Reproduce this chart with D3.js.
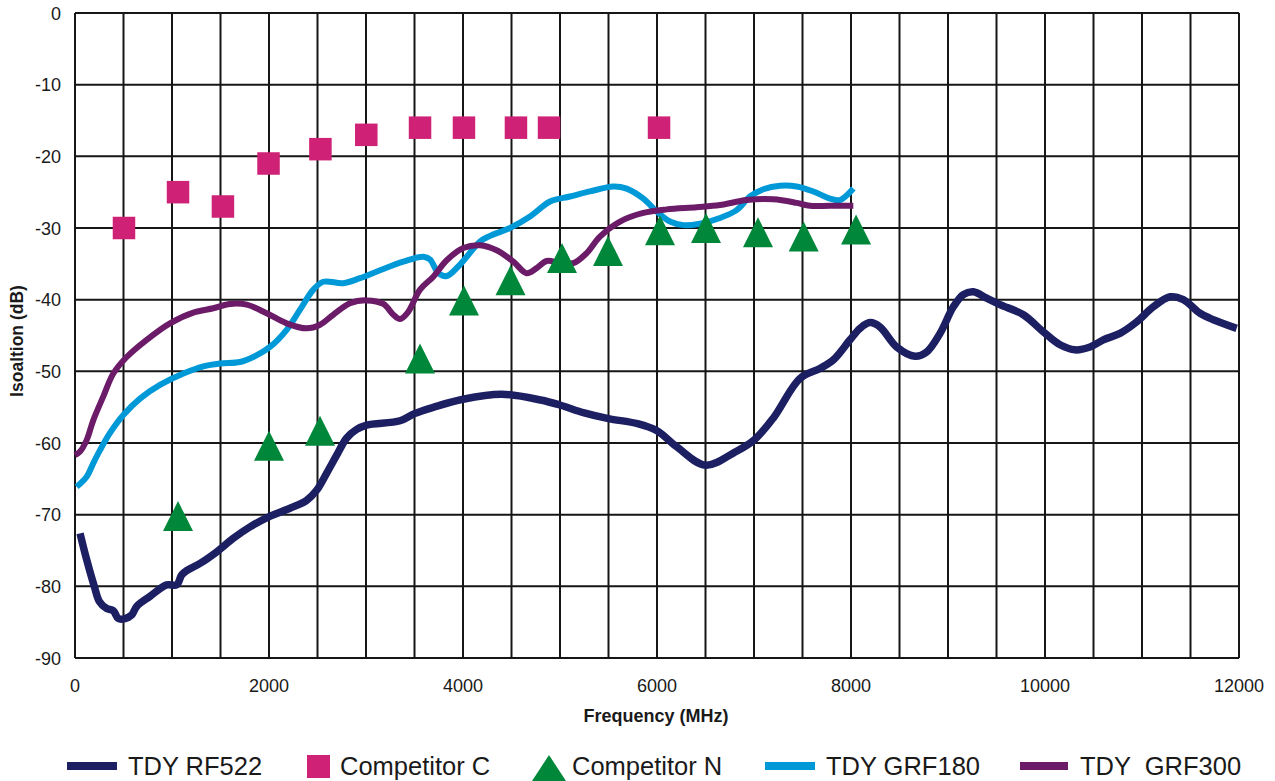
<!DOCTYPE html>
<html><head><meta charset="utf-8">
<script src="https://cdn.jsdelivr.net/npm/d3@7"></script>
<style>
html,body{margin:0;padding:0;background:#fff;}
svg{display:block;font-family:"Liberation Sans",Arial,sans-serif;}
</style></head>
<body>
<svg id="chart" width="1275" height="781"></svg>
<script>
// ---- data ----
const rf522 = [[52,-72.6],[113,-75.9],[199,-80.0],[251,-82.1],[327,-83.1],[395,-83.4],[447,-84.5],[515,-84.5],[584,-84.0],[636,-82.8],[773,-81.4],[945,-79.8],[1048,-79.8],[1100,-78.4],[1151,-77.8],[1289,-76.8],[1460,-75.2],[1632,-73.3],[1804,-71.7],[1997,-70.3],[2216,-69.1],[2388,-68.0],[2491,-66.6],[2595,-64.2],[2698,-61.7],[2801,-59.3],[2904,-58.1],[3007,-57.5],[3351,-56.9],[3500,-55.9],[3700,-55.0],[4000,-53.9],[4400,-53.2],[4800,-54.0],[5000,-54.7],[5250,-55.8],[5500,-56.6],[5800,-57.3],[6000,-58.3],[6200,-60.5],[6500,-63.1],[6800,-61.3],[7000,-59.6],[7200,-56.5],[7474,-51.0],[7680,-49.6],[7818,-48.4],[7990,-45.6],[8093,-44.0],[8196,-43.2],[8299,-43.8],[8471,-46.6],[8660,-47.9],[8780,-47.3],[8918,-44.7],[9055,-41.0],[9158,-39.3],[9261,-38.9],[9399,-39.8],[9536,-40.7],[9777,-42.1],[9983,-44.5],[10155,-46.3],[10309,-47.0],[10464,-46.6],[10601,-45.6],[10773,-44.7],[10945,-43.1],[11117,-41.0],[11289,-39.6],[11426,-40.0],[11598,-41.9],[11735,-42.8],[11976,-44.0]];
const grf180 = [[17,-66.1],[120,-64.7],[189,-62.8],[258,-61.0],[361,-58.6],[498,-56.1],[670,-53.8],[876,-51.9],[1117,-50.3],[1323,-49.3],[1495,-48.9],[1701,-48.7],[1838,-48.0],[2010,-46.6],[2182,-44.2],[2320,-41.4],[2457,-38.6],[2560,-37.5],[2766,-37.7],[2938,-37.0],[3144,-35.9],[3385,-34.7],[3591,-34.0],[3660,-34.4],[3746,-36.3],[3832,-36.7],[3969,-35.1],[4175,-31.9],[4278,-31.1],[4485,-30.0],[4691,-28.4],[4897,-26.3],[5103,-25.6],[5309,-24.9],[5550,-24.2],[5687,-24.5],[5859,-25.9],[5997,-27.7],[6134,-29.1],[6271,-29.6],[6443,-29.4],[6649,-28.6],[6821,-27.5],[6959,-25.6],[7096,-24.6],[7268,-24.1],[7440,-24.2],[7612,-24.9],[7784,-25.9],[7887,-26.1],[8024,-24.5]];
const grf300 = [[0,-61.7],[52,-61.2],[120,-59.6],[189,-56.8],[292,-53.5],[395,-50.3],[533,-48.0],[739,-45.6],[979,-43.3],[1220,-41.8],[1426,-41.2],[1598,-40.6],[1770,-40.7],[1976,-41.9],[2182,-43.3],[2388,-44.0],[2526,-43.5],[2663,-42.1],[2835,-40.5],[3007,-40.1],[3179,-40.6],[3282,-42.1],[3351,-42.7],[3430,-41.8],[3557,-38.6],[3694,-36.8],[3832,-34.5],[4003,-32.8],[4175,-32.4],[4347,-33.1],[4519,-34.7],[4656,-36.3],[4759,-35.6],[4863,-34.6],[5000,-34.9],[5137,-34.9],[5275,-33.5],[5412,-31.2],[5619,-29.1],[5859,-27.9],[6100,-27.4],[6409,-27.1],[6649,-26.8],[6924,-26.1],[7199,-26.0],[7440,-26.5],[7577,-26.9],[7784,-26.9],[8024,-26.9]];
const competitorC = [[505,-30],[1062,-25],[1525,-27],[1995,-21],[2530,-19],[3003,-17],[3557,-16],[4010,-16],[4546,-16],[4887,-16],[6021,-16]];
const competitorN = [[1062,-70.2],[2000,-60.4],[2526,-58.3],[3557,-48.2],[4010,-40.1],[4490,-37.3],[5021,-34.2],[5495,-33.2],[6031,-30.3],[6505,-30.0],[7041,-30.6],[7512,-31.2],[8052,-30.2]];
const xTicks = [0,2000,4000,6000,8000,10000,12000];
const yTicks = [0,-10,-20,-30,-40,-50,-60,-70,-80,-90];
const xGrid = d3.range(0,12001,500);
const legendItems = ["TDY RF522","Competitor C","Competitor N","TDY GRF180","TDY  GRF300"];

// ---- layout ----
const L=75, R=1239, T=13, B=658;
const x = d3.scaleLinear().domain([0,12000]).range([L,R]);
const y = d3.scaleLinear().domain([0,-90]).range([T,B]);
const svg = d3.select("#chart");
const C = {navy:"#1d1f63", pink:"#cf2176", green:"#00873a", blue:"#0099d8", purple:"#6b1b68"};

// grid
const g = svg.append("g");
g.selectAll("line.v").data(xGrid).enter().append("line")
  .attr("x1",d=>x(d)).attr("x2",d=>x(d)).attr("y1",T).attr("y2",B)
  .attr("stroke","#161616").attr("stroke-width",2);
g.selectAll("line.h").data(yTicks).enter().append("line")
  .attr("x1",L).attr("x2",R).attr("y1",d=>y(d)).attr("y2",d=>y(d))
  .attr("stroke","#161616").attr("stroke-width",2);

// axis labels
svg.append("g").selectAll("text").data(yTicks).enter().append("text")
  .attr("x",61).attr("y",d=>y(d)+6.5).attr("text-anchor","end")
  .attr("font-size",18).attr("fill","#1a1a1a").text(d=>d);
svg.append("g").selectAll("text").data(xTicks).enter().append("text")
  .attr("x",d=>x(d)).attr("y",692).attr("text-anchor","middle")
  .attr("font-size",18).attr("fill","#1a1a1a").text(d=>d);

svg.append("text").attr("x",656).attr("y",722).attr("text-anchor","middle")
  .attr("font-size",18).attr("font-weight","bold").attr("fill","#1a1a1a").text("Frequency (MHz)");
svg.append("text").attr("transform","translate(23,341) rotate(-90)").attr("text-anchor","middle")
  .attr("font-size",17.5).attr("font-weight","bold").attr("fill","#1a1a1a").text("Isoaltion (dB)");

// lines
const line = d3.line().x(d=>x(d[0])).y(d=>y(d[1])).curve(d3.curveCatmullRom.alpha(0.5));
svg.append("path").datum(rf522).attr("d",line).attr("fill","none").attr("stroke",C.navy)
  .attr("stroke-width",7.5).attr("stroke-linejoin","round");
svg.append("path").datum(grf180).attr("d",line).attr("fill","none").attr("stroke",C.blue)
  .attr("stroke-width",6).attr("stroke-linejoin","round");
svg.append("path").datum(grf300).attr("d",line).attr("fill","none").attr("stroke",C.purple)
  .attr("stroke-width",6).attr("stroke-linejoin","round");

// markers
const sq = 22.5;
svg.append("g").selectAll("rect").data(competitorC).enter().append("rect")
  .attr("x",d=>x(d[0])-sq/2).attr("y",d=>y(d[1])-sq/2).attr("width",sq).attr("height",sq)
  .attr("fill",C.pink);
svg.append("g").selectAll("path").data(competitorN).enter().append("path")
  .attr("d","M0,-15L15,15L-15,15Z")
  .attr("transform",d=>`translate(${x(d[0])},${y(d[1])})`).attr("fill",C.green);

// legend
const lg = svg.append("g").attr("font-size",25.5).attr("fill","#1a1a1a");
lg.append("line").attr("x1",67).attr("x2",117).attr("y1",766).attr("y2",766).attr("stroke",C.navy).attr("stroke-width",8);
lg.append("text").attr("x",128).attr("y",775).text(legendItems[0]);
lg.append("rect").attr("x",307).attr("y",755).attr("width",23).attr("height",23).attr("fill",C.pink);
lg.append("text").attr("x",340).attr("y",775).text(legendItems[1]);
lg.append("path").attr("d","M549,755L566,781L532,781Z").attr("fill",C.green);
lg.append("text").attr("x",572).attr("y",775).text(legendItems[2]);
lg.append("line").attr("x1",765).attr("x2",815).attr("y1",766).attr("y2",766).attr("stroke",C.blue).attr("stroke-width",8);
lg.append("text").attr("x",826).attr("y",775).text(legendItems[3]);
lg.append("line").attr("x1",1020).attr("x2",1068).attr("y1",766).attr("y2",766).attr("stroke",C.purple).attr("stroke-width",8);
lg.append("text").attr("x",1080).attr("y",775).attr("xml:space","preserve").style("white-space","pre").text(legendItems[4]);
</script>
</body></html>
